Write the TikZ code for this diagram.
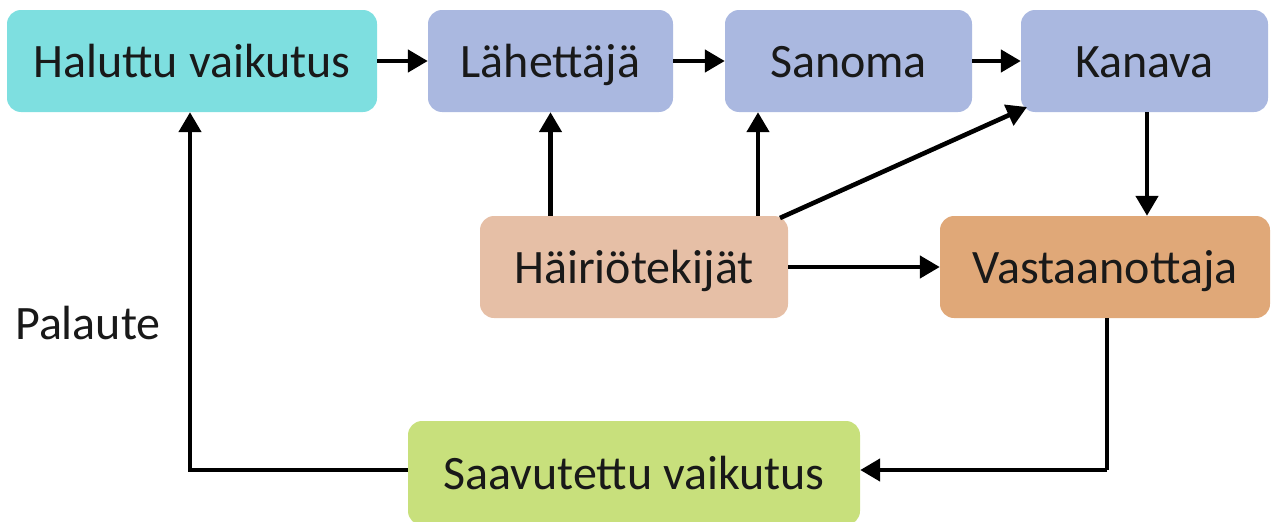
\documentclass[tikz,border=0pt]{standalone}
\usepackage{fontspec}
\setmainfont{Carlito}
\usetikzlibrary{arrows.meta}
\definecolor{cyanbox}{HTML}{7EDFE0}
\definecolor{lavbox}{HTML}{AAB8E0}
\definecolor{noisebox}{HTML}{E6BFA6}
\definecolor{recvbox}{HTML}{E0A878}
\definecolor{greenbox}{HTML}{C8E07C}
\begin{document}
\begin{tikzpicture}[x=1pt,y=-1pt,
  box/.style={rounded corners=14pt, inner sep=0pt, font=\fontsize{48}{56}\selectfont, text=black!90, text height=35pt, text depth=3pt},
  conn/.style={line width=4.6pt, -{Triangle[length=20pt,width=22pt]}},
  seg/.style={line width=4.6pt}]
\useasboundingbox (0,0) rectangle (1272,522);
\node[box, fill=cyanbox, minimum width=370pt, minimum height=102pt] (hal) at (192,61) {Haluttu vaikutus};
\node[box, fill=lavbox, minimum width=245pt, minimum height=102pt] (lah) at (550.5,61) {Lähettäjä};
\node[box, fill=lavbox, minimum width=247pt, minimum height=102pt] (san) at (848.5,61) {Sanoma};
\node[box, fill=lavbox, minimum width=247pt, minimum height=102pt] (kan) at (1144.5,61) {Kanava};
\node[box, fill=noisebox, minimum width=308pt, minimum height=102pt] (hai) at (634,267) {Häiriötekijät};
\node[box, fill=recvbox, minimum width=330pt, minimum height=102pt] (vas) at (1105,267) {Vastaanottaja};
\node[box, fill=greenbox, minimum width=452pt, minimum height=104pt] (saa) at (634,473) {Saavutettu vaikutus};
\node[anchor=west, inner sep=0pt, font=\fontsize{48}{56}\selectfont, text=black!90] (pal) at (15,323) {Palaute};
\coordinate (c1) at (1107,470);
\coordinate (c2) at (190,470);
\draw[conn] (hal.east) -- (lah.west);
\draw[conn] (lah.east) -- (san.west);
\draw[conn] (san.east) -- (kan.west);
\draw[conn] (hai.north -| lah) -- (lah.south);
\draw[conn] (hai.north -| 758,0) -- (san.south -| 758,0);
\draw[conn] (780,218) coordinate (h3) -- (1027,107) coordinate (k3);
\draw[conn] (hai.east) -- (vas.west);
\draw[conn] (kan.south -| 1147,0) -- (vas.north -| 1147,0);
\draw[seg] (vas.south -| c1) -- (c1);
\draw[conn] (c1) -- (saa.east |- c1);
\draw[conn] (saa.west |- c2) -- (c2) -- (hal.south -| c2);
\end{tikzpicture}
\end{document}
